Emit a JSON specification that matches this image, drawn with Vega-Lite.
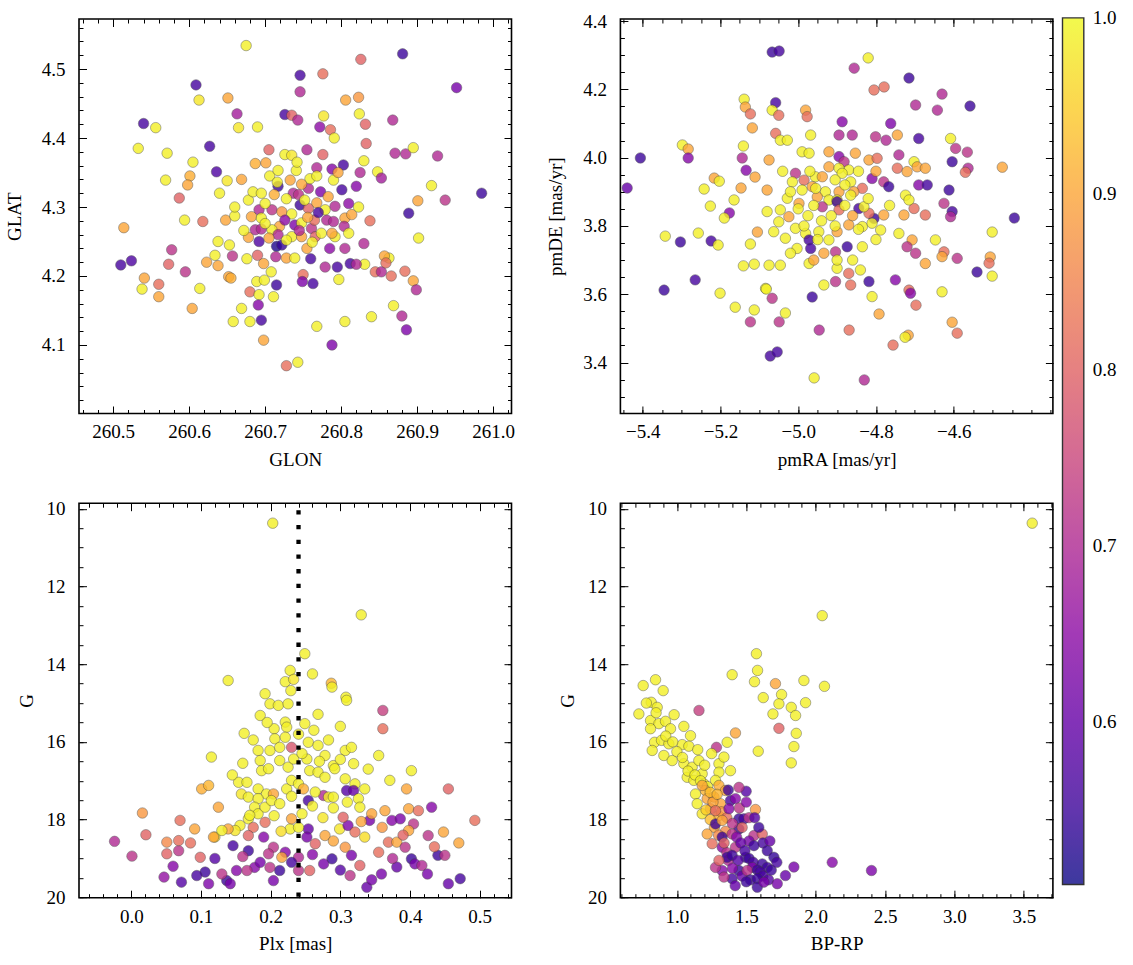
{
"$schema":"https://vega.github.io/schema/vega-lite/v6.json",
"background":"white",
"padding":{"left":4,"top":11,"right":10,"bottom":10},
"bounds":"flush",
"columns":2,
"spacing":{"row":89.2,"column":108.4},
"datasets":{
"sky":[
{"GLON":260.675,"GLAT":4.534,"P":0.99},{"GLON":260.826,"GLAT":4.514,"P":0.80},{"GLON":260.881,"GLAT":4.522,"P":0.55},{"GLON":260.746,"GLAT":4.491,"P":0.56},{"GLON":260.776,"GLAT":4.493,"P":0.82},{"GLON":260.952,"GLAT":4.473,"P":0.62},{"GLON":260.609,"GLAT":4.477,"P":0.56},{"GLON":260.613,"GLAT":4.455,"P":0.98},{"GLON":260.651,"GLAT":4.458,"P":0.90},{"GLON":260.823,"GLAT":4.459,"P":0.88},{"GLON":260.806,"GLAT":4.455,"P":0.90},{"GLON":260.746,"GLAT":4.467,"P":0.70},{"GLON":260.540,"GLAT":4.421,"P":0.56},{"GLON":260.556,"GLAT":4.415,"P":0.99},{"GLON":260.663,"GLAT":4.435,"P":0.68},{"GLON":260.665,"GLAT":4.415,"P":0.98},{"GLON":260.690,"GLAT":4.416,"P":0.99},{"GLON":260.726,"GLAT":4.434,"P":0.56},{"GLON":260.735,"GLAT":4.433,"P":0.80},{"GLON":260.743,"GLAT":4.426,"P":0.70},{"GLON":260.772,"GLAT":4.416,"P":0.65},{"GLON":260.777,"GLAT":4.432,"P":0.98},{"GLON":260.786,"GLAT":4.412,"P":0.82},{"GLON":260.824,"GLAT":4.435,"P":0.99},{"GLON":260.832,"GLAT":4.420,"P":0.80},{"GLON":260.868,"GLAT":4.426,"P":0.70},{"GLON":260.533,"GLAT":4.385,"P":0.99},{"GLON":260.571,"GLAT":4.378,"P":0.99},{"GLON":260.627,"GLAT":4.388,"P":0.56},{"GLON":260.605,"GLAT":4.365,"P":0.99},{"GLON":260.636,"GLAT":4.351,"P":0.57},{"GLON":260.601,"GLAT":4.345,"P":0.91},{"GLON":260.650,"GLAT":4.338,"P":0.98},{"GLON":260.669,"GLAT":4.340,"P":0.90},{"GLON":260.687,"GLAT":4.363,"P":0.91},{"GLON":260.701,"GLAT":4.364,"P":0.90},{"GLON":260.705,"GLAT":4.383,"P":0.80},{"GLON":260.755,"GLAT":4.383,"P":0.70},{"GLON":260.776,"GLAT":4.376,"P":0.80},{"GLON":260.726,"GLAT":4.376,"P":0.99},{"GLON":260.735,"GLAT":4.375,"P":0.98},{"GLON":260.791,"GLAT":4.400,"P":0.99},{"GLON":260.833,"GLAT":4.392,"P":0.80},{"GLON":260.803,"GLAT":4.361,"P":0.56},{"GLON":260.788,"GLAT":4.355,"P":0.64},{"GLON":260.768,"GLAT":4.357,"P":0.70},{"GLON":260.830,"GLAT":4.367,"P":0.99},{"GLON":260.825,"GLAT":4.350,"P":0.70},{"GLON":260.848,"GLAT":4.351,"P":0.99},{"GLON":260.853,"GLAT":4.342,"P":0.68},{"GLON":260.871,"GLAT":4.378,"P":0.70},{"GLON":260.706,"GLAT":4.345,"P":0.99},{"GLON":260.717,"GLAT":4.330,"P":0.55},{"GLON":260.717,"GLAT":4.353,"P":0.99},{"GLON":260.733,"GLAT":4.339,"P":0.90},{"GLON":260.737,"GLAT":4.320,"P":0.70},{"GLON":260.757,"GLAT":4.327,"P":0.70},{"GLON":260.773,"GLAT":4.322,"P":0.63},{"GLON":260.801,"GLAT":4.325,"P":0.56},{"GLON":260.810,"GLAT":4.305,"P":0.65},{"GLON":260.741,"GLAT":4.353,"P":0.99},{"GLON":260.759,"GLAT":4.341,"P":0.99},{"GLON":260.783,"GLAT":4.315,"P":0.90},{"GLON":260.790,"GLAT":4.339,"P":0.99},{"GLON":260.692,"GLAT":4.296,"P":0.70},{"GLON":260.709,"GLAT":4.296,"P":0.72},{"GLON":260.722,"GLAT":4.293,"P":0.88},{"GLON":260.746,"GLAT":4.303,"P":0.55},{"GLON":260.757,"GLAT":4.298,"P":0.80},{"GLON":260.678,"GLAT":4.310,"P":0.99},{"GLON":260.684,"GLAT":4.322,"P":0.99},{"GLON":260.695,"GLAT":4.320,"P":0.99},{"GLON":260.682,"GLAT":4.286,"P":0.90},{"GLON":260.695,"GLAT":4.284,"P":0.99},{"GLON":260.719,"GLAT":4.272,"P":0.90},{"GLON":260.739,"GLAT":4.274,"P":0.63},{"GLON":260.748,"GLAT":4.277,"P":0.99},{"GLON":260.761,"GLAT":4.269,"P":0.72},{"GLON":260.765,"GLAT":4.281,"P":0.82},{"GLON":260.781,"GLAT":4.281,"P":0.70},{"GLON":260.790,"GLAT":4.279,"P":0.70},{"GLON":260.805,"GLAT":4.284,"P":0.90},{"GLON":260.804,"GLAT":4.272,"P":0.70},{"GLON":260.814,"GLAT":4.289,"P":0.90},{"GLON":260.687,"GLAT":4.267,"P":0.70},{"GLON":260.695,"GLAT":4.268,"P":0.70},{"GLON":260.709,"GLAT":4.267,"P":0.99},{"GLON":260.717,"GLAT":4.260,"P":0.70},{"GLON":260.692,"GLAT":4.250,"P":0.57},{"GLON":260.715,"GLAT":4.243,"P":0.52},{"GLON":260.722,"GLAT":4.245,"P":0.54},{"GLON":260.735,"GLAT":4.257,"P":0.99},{"GLON":260.748,"GLAT":4.257,"P":0.90},{"GLON":260.766,"GLAT":4.257,"P":0.80},{"GLON":260.774,"GLAT":4.262,"P":0.99},{"GLON":260.792,"GLAT":4.257,"P":0.99},{"GLON":260.678,"GLAT":4.256,"P":0.90},{"GLON":260.638,"GLAT":4.250,"P":0.99},{"GLON":260.653,"GLAT":4.245,"P":0.99},{"GLON":260.657,"GLAT":4.229,"P":0.72},{"GLON":260.634,"GLAT":4.230,"P":0.99},{"GLON":260.638,"GLAT":4.215,"P":0.90},{"GLON":260.690,"GLAT":4.230,"P":0.80},{"GLON":260.698,"GLAT":4.218,"P":0.90},{"GLON":260.714,"GLAT":4.228,"P":0.70},{"GLON":260.728,"GLAT":4.226,"P":0.90},{"GLON":260.739,"GLAT":4.226,"P":0.99},{"GLON":260.755,"GLAT":4.240,"P":0.90},{"GLON":260.785,"GLAT":4.240,"P":0.65},{"GLON":260.805,"GLAT":4.240,"P":0.70},{"GLON":260.779,"GLAT":4.213,"P":0.70},{"GLON":260.795,"GLAT":4.213,"P":0.56},{"GLON":260.812,"GLAT":4.218,"P":0.56},{"GLON":260.831,"GLAT":4.217,"P":0.99},{"GLON":260.845,"GLAT":4.206,"P":0.82},{"GLON":260.853,"GLAT":4.206,"P":0.70},{"GLON":260.863,"GLAT":4.226,"P":0.99},{"GLON":260.857,"GLAT":4.229,"P":0.90},{"GLON":260.866,"GLAT":4.200,"P":0.82},{"GLON":260.652,"GLAT":4.199,"P":0.90},{"GLON":260.655,"GLAT":4.197,"P":0.91},{"GLON":260.680,"GLAT":4.177,"P":0.82},{"GLON":260.689,"GLAT":4.192,"P":0.99},{"GLON":260.699,"GLAT":4.194,"P":0.99},{"GLON":260.715,"GLAT":4.187,"P":0.55},{"GLON":260.692,"GLAT":4.173,"P":0.99},{"GLON":260.711,"GLAT":4.170,"P":0.99},{"GLON":260.750,"GLAT":4.202,"P":0.82},{"GLON":260.749,"GLAT":4.192,"P":0.63},{"GLON":260.763,"GLAT":4.189,"P":0.56},{"GLON":260.691,"GLAT":4.158,"P":0.64},{"GLON":260.669,"GLAT":4.153,"P":0.99},{"GLON":260.695,"GLAT":4.136,"P":0.56},{"GLON":260.680,"GLAT":4.134,"P":0.99},{"GLON":260.768,"GLAT":4.127,"P":0.99},{"GLON":260.805,"GLAT":4.134,"P":0.99},{"GLON":260.840,"GLAT":4.141,"P":0.99},{"GLON":260.869,"GLAT":4.157,"P":0.99},{"GLON":260.614,"GLAT":4.182,"P":0.99},{"GLON":260.604,"GLAT":4.153,"P":0.90},{"GLON":260.595,"GLAT":4.206,"P":0.72},{"GLON":260.594,"GLAT":4.281,"P":0.99},{"GLON":260.618,"GLAT":4.279,"P":0.82},{"GLON":260.648,"GLAT":4.281,"P":0.90},{"GLON":260.660,"GLAT":4.287,"P":0.99},{"GLON":260.510,"GLAT":4.216,"P":0.56},{"GLON":260.524,"GLAT":4.222,"P":0.57},{"GLON":260.514,"GLAT":4.270,"P":0.90},{"GLON":260.538,"GLAT":4.181,"P":0.99},{"GLON":260.541,"GLAT":4.197,"P":0.90},{"GLON":260.560,"GLAT":4.188,"P":0.82},{"GLON":260.560,"GLAT":4.170,"P":0.90},{"GLON":260.573,"GLAT":4.217,"P":0.80},{"GLON":260.577,"GLAT":4.238,"P":0.72},{"GLON":260.587,"GLAT":4.313,"P":0.80},{"GLON":260.598,"GLAT":4.332,"P":0.90},{"GLON":260.569,"GLAT":4.339,"P":0.99},{"GLON":260.623,"GLAT":4.220,"P":0.90},{"GLON":260.885,"GLAT":4.377,"P":0.70},{"GLON":260.895,"GLAT":4.386,"P":0.99},{"GLON":260.919,"GLAT":4.331,"P":0.99},{"GLON":260.927,"GLAT":4.374,"P":0.70},{"GLON":260.901,"GLAT":4.309,"P":0.90},{"GLON":260.889,"GLAT":4.291,"P":0.55},{"GLON":260.902,"GLAT":4.255,"P":0.99},{"GLON":260.884,"GLAT":4.207,"P":0.82},{"GLON":260.895,"GLAT":4.193,"P":0.90},{"GLON":260.899,"GLAT":4.180,"P":0.70},{"GLON":260.880,"GLAT":4.142,"P":0.70},{"GLON":260.886,"GLAT":4.122,"P":0.63},{"GLON":260.937,"GLAT":4.310,"P":0.72},{"GLON":260.859,"GLAT":4.219,"P":0.82},{"GLON":260.820,"GLAT":4.217,"P":0.70},{"GLON":260.728,"GLAT":4.070,"P":0.82},{"GLON":260.743,"GLAT":4.075,"P":0.99},{"GLON":260.788,"GLAT":4.100,"P":0.63},{"GLON":260.698,"GLAT":4.107,"P":0.90},{"GLON":260.658,"GLAT":4.134,"P":0.99},{"GLON":260.985,"GLAT":4.320,"P":0.55},
{"GLON":260.700,"GLAT":4.305,"P":0.99},{"GLON":260.712,"GLAT":4.318,"P":0.91},{"GLON":260.728,"GLAT":4.312,"P":0.99},{"GLON":260.744,"GLAT":4.318,"P":0.72},{"GLON":260.752,"GLAT":4.310,"P":0.99},{"GLON":260.768,"GLAT":4.306,"P":0.90},{"GLON":260.779,"GLAT":4.296,"P":0.99},{"GLON":260.792,"GLAT":4.301,"P":0.70},{"GLON":260.735,"GLAT":4.290,"P":0.99},{"GLON":260.726,"GLAT":4.281,"P":0.65},{"GLON":260.700,"GLAT":4.276,"P":0.99},{"GLON":260.756,"GLAT":4.285,"P":0.90},{"GLON":260.770,"GLAT":4.292,"P":0.56},{"GLON":260.788,"GLAT":4.262,"P":0.90},{"GLON":260.762,"GLAT":4.249,"P":0.99},{"GLON":260.745,"GLAT":4.266,"P":0.70},{"GLON":260.728,"GLAT":4.252,"P":0.99},{"GLON":260.705,"GLAT":4.255,"P":0.90},{"GLON":260.716,"GLAT":4.336,"P":0.99},{"GLON":260.748,"GLAT":4.333,"P":0.90},{"GLON":260.768,"GLAT":4.345,"P":0.99},{"GLON":260.796,"GLAT":4.350,"P":0.90},{"GLON":260.742,"GLAT":4.365,"P":0.99},{"GLON":260.660,"GLAT":4.300,"P":0.99},{"GLON":260.672,"GLAT":4.266,"P":0.99},{"GLON":260.810,"GLAT":4.262,"P":0.99},{"GLON":260.823,"GLAT":4.300,"P":0.99},{"GLON":260.830,"GLAT":4.247,"P":0.70},{"GLON":260.676,"GLAT":4.225,"P":0.99},{"GLON":260.708,"GLAT":4.206,"P":0.99},{"GLON":260.640,"GLAT":4.320,"P":0.99},{"GLON":260.760,"GLAT":4.225,"P":0.56},{"GLON":260.797,"GLAT":4.195,"P":0.99},{"GLON":260.838,"GLAT":4.280,"P":0.82},{"GLON":260.820,"GLAT":4.330,"P":0.64}
],
"pm":[
{"pmRA":-5.058,"pmDE":4.161,"P":0.56},{"pmRA":-5.067,"pmDE":4.139,"P":0.99},{"pmRA":-5.050,"pmDE":4.124,"P":0.82},{"pmRA":-4.981,"pmDE":4.139,"P":0.90},{"pmRA":-4.977,"pmDE":4.120,"P":0.82},{"pmRA":-4.887,"pmDE":4.105,"P":0.64},{"pmRA":-4.895,"pmDE":4.066,"P":0.70},{"pmRA":-4.861,"pmDE":4.066,"P":0.70},{"pmRA":-4.801,"pmDE":4.061,"P":0.72},{"pmRA":-4.774,"pmDE":4.051,"P":0.70},{"pmRA":-4.762,"pmDE":4.100,"P":0.63},{"pmRA":-4.745,"pmDE":4.066,"P":0.90},{"pmRA":-4.698,"pmDE":4.154,"P":0.70},{"pmRA":-4.642,"pmDE":4.139,"P":0.70},{"pmRA":-4.690,"pmDE":4.056,"P":0.56},{"pmRA":-4.608,"pmDE":4.056,"P":0.99},{"pmRA":-4.595,"pmDE":4.027,"P":0.72},{"pmRA":-4.604,"pmDE":3.988,"P":0.55},{"pmRA":-5.058,"pmDE":4.071,"P":0.82},{"pmRA":-5.046,"pmDE":4.051,"P":0.99},{"pmRA":-5.028,"pmDE":4.051,"P":0.99},{"pmRA":-4.968,"pmDE":4.066,"P":0.99},{"pmRA":-4.990,"pmDE":4.017,"P":0.99},{"pmRA":-4.972,"pmDE":4.013,"P":0.99},{"pmRA":-4.921,"pmDE":4.017,"P":0.90},{"pmRA":-4.895,"pmDE":4.003,"P":0.64},{"pmRA":-4.882,"pmDE":3.988,"P":0.72},{"pmRA":-4.853,"pmDE":4.013,"P":0.90},{"pmRA":-4.870,"pmDE":3.964,"P":0.99},{"pmRA":-4.818,"pmDE":3.993,"P":0.90},{"pmRA":-4.797,"pmDE":3.998,"P":0.82},{"pmRA":-4.741,"pmDE":4.008,"P":0.70},{"pmRA":-4.745,"pmDE":3.969,"P":0.82},{"pmRA":-4.702,"pmDE":3.988,"P":0.99},{"pmRA":-4.720,"pmDE":3.959,"P":0.90},{"pmRA":-4.694,"pmDE":3.973,"P":0.90},{"pmRA":-4.673,"pmDE":3.969,"P":0.90},{"pmRA":-4.810,"pmDE":3.939,"P":0.64},{"pmRA":-4.780,"pmDE":3.929,"P":0.72},{"pmRA":-4.767,"pmDE":3.915,"P":0.55},{"pmRA":-4.690,"pmDE":3.920,"P":0.64},{"pmRA":-4.668,"pmDE":3.920,"P":0.56},{"pmRA":-5.075,"pmDE":3.993,"P":0.90},{"pmRA":-5.007,"pmDE":3.954,"P":0.72},{"pmRA":-4.985,"pmDE":3.934,"P":0.82},{"pmRA":-5.015,"pmDE":3.929,"P":0.99},{"pmRA":-4.956,"pmDE":3.944,"P":0.99},{"pmRA":-4.921,"pmDE":3.973,"P":0.90},{"pmRA":-4.938,"pmDE":3.944,"P":0.90},{"pmRA":-4.895,"pmDE":3.969,"P":0.99},{"pmRA":-4.887,"pmDE":3.954,"P":0.99},{"pmRA":-4.865,"pmDE":3.929,"P":0.99},{"pmRA":-4.835,"pmDE":3.910,"P":0.82},{"pmRA":-4.857,"pmDE":3.900,"P":0.90},{"pmRA":-4.895,"pmDE":3.900,"P":0.90},{"pmRA":-4.930,"pmDE":3.900,"P":0.99},{"pmRA":-4.964,"pmDE":3.915,"P":0.90},{"pmRA":-4.990,"pmDE":3.905,"P":0.99},{"pmRA":-5.080,"pmDE":3.905,"P":0.90},{"pmRA":-5.028,"pmDE":3.881,"P":0.99},{"pmRA":-4.998,"pmDE":3.866,"P":0.90},{"pmRA":-4.951,"pmDE":3.885,"P":0.90},{"pmRA":-4.921,"pmDE":3.876,"P":0.99},{"pmRA":-4.900,"pmDE":3.876,"P":0.99},{"pmRA":-4.900,"pmDE":3.871,"P":0.55},{"pmRA":-4.938,"pmDE":3.856,"P":0.72},{"pmRA":-4.895,"pmDE":3.847,"P":0.82},{"pmRA":-4.865,"pmDE":3.890,"P":0.99},{"pmRA":-4.844,"pmDE":3.851,"P":0.56},{"pmRA":-4.805,"pmDE":3.822,"P":0.55},{"pmRA":-4.818,"pmDE":3.837,"P":0.82},{"pmRA":-4.831,"pmDE":3.856,"P":0.99},{"pmRA":-4.780,"pmDE":3.832,"P":0.90},{"pmRA":-4.728,"pmDE":3.832,"P":0.90},{"pmRA":-4.702,"pmDE":3.851,"P":0.82},{"pmRA":-4.673,"pmDE":3.832,"P":0.82},{"pmRA":-4.724,"pmDE":3.890,"P":0.99},{"pmRA":-4.715,"pmDE":3.876,"P":0.99},{"pmRA":-4.625,"pmDE":3.866,"P":0.72},{"pmRA":-4.604,"pmDE":3.842,"P":0.56},{"pmRA":-4.608,"pmDE":3.827,"P":0.70},{"pmRA":-5.046,"pmDE":3.847,"P":0.99},{"pmRA":-5.024,"pmDE":3.827,"P":0.90},{"pmRA":-5.050,"pmDE":3.812,"P":0.99},{"pmRA":-5.080,"pmDE":3.842,"P":0.99},{"pmRA":-5.007,"pmDE":3.793,"P":0.99},{"pmRA":-4.981,"pmDE":3.778,"P":0.99},{"pmRA":-4.947,"pmDE":3.783,"P":0.99},{"pmRA":-4.921,"pmDE":3.759,"P":0.99},{"pmRA":-4.900,"pmDE":3.783,"P":0.90},{"pmRA":-4.870,"pmDE":3.803,"P":0.90},{"pmRA":-4.835,"pmDE":3.798,"P":0.99},{"pmRA":-4.810,"pmDE":3.808,"P":0.99},{"pmRA":-4.788,"pmDE":3.788,"P":0.99},{"pmRA":-4.835,"pmDE":3.739,"P":0.99},{"pmRA":-4.874,"pmDE":3.739,"P":0.55},{"pmRA":-4.904,"pmDE":3.724,"P":0.72},{"pmRA":-4.934,"pmDE":3.720,"P":0.90},{"pmRA":-4.972,"pmDE":3.759,"P":0.56},{"pmRA":-4.968,"pmDE":3.734,"P":0.56},{"pmRA":-5.003,"pmDE":3.734,"P":0.99},{"pmRA":-5.033,"pmDE":3.764,"P":0.99},{"pmRA":-5.063,"pmDE":3.783,"P":0.99},{"pmRA":-4.741,"pmDE":3.778,"P":0.99},{"pmRA":-4.707,"pmDE":3.759,"P":0.90},{"pmRA":-4.720,"pmDE":3.739,"P":0.72},{"pmRA":-4.698,"pmDE":3.720,"P":0.72},{"pmRA":-4.673,"pmDE":3.690,"P":0.90},{"pmRA":-4.647,"pmDE":3.759,"P":0.99},{"pmRA":-4.625,"pmDE":3.724,"P":0.82},{"pmRA":-4.630,"pmDE":3.710,"P":0.90},{"pmRA":-4.591,"pmDE":3.705,"P":0.72},{"pmRA":-5.075,"pmDE":3.685,"P":0.99},{"pmRA":-5.046,"pmDE":3.685,"P":0.99},{"pmRA":-4.972,"pmDE":3.690,"P":0.99},{"pmRA":-4.934,"pmDE":3.627,"P":0.99},{"pmRA":-4.900,"pmDE":3.676,"P":0.99},{"pmRA":-4.870,"pmDE":3.661,"P":0.82},{"pmRA":-4.840,"pmDE":3.671,"P":0.99},{"pmRA":-4.865,"pmDE":3.627,"P":0.82},{"pmRA":-4.904,"pmDE":3.637,"P":0.72},{"pmRA":-4.818,"pmDE":3.637,"P":0.55},{"pmRA":-4.750,"pmDE":3.642,"P":0.64},{"pmRA":-4.715,"pmDE":3.612,"P":0.82},{"pmRA":-4.711,"pmDE":3.603,"P":0.64},{"pmRA":-4.630,"pmDE":3.607,"P":0.99},{"pmRA":-5.084,"pmDE":3.617,"P":0.99},{"pmRA":-5.067,"pmDE":3.588,"P":0.72},{"pmRA":-4.810,"pmDE":3.593,"P":0.99},
{"pmRA":-5.067,"pmDE":4.309,"P":0.55},{"pmRA":-5.049,"pmDE":4.312,"P":0.56},{"pmRA":-4.820,"pmDE":4.292,"P":0.99},{"pmRA":-4.715,"pmDE":4.233,"P":0.55},{"pmRA":-4.856,"pmDE":4.262,"P":0.70},{"pmRA":-4.805,"pmDE":4.198,"P":0.82},{"pmRA":-4.779,"pmDE":4.207,"P":0.82},{"pmRA":-4.630,"pmDE":4.186,"P":0.70},{"pmRA":-4.558,"pmDE":4.151,"P":0.55},{"pmRA":-4.475,"pmDE":3.972,"P":0.90},{"pmRA":-4.563,"pmDE":3.969,"P":0.70},{"pmRA":-4.565,"pmDE":4.016,"P":0.72},{"pmRA":-4.570,"pmDE":3.957,"P":0.82},{"pmRA":-4.612,"pmDE":3.905,"P":0.55},{"pmRA":-4.444,"pmDE":3.823,"P":0.55},{"pmRA":-4.501,"pmDE":3.782,"P":0.99},{"pmRA":-4.506,"pmDE":3.709,"P":0.90},{"pmRA":-4.509,"pmDE":3.691,"P":0.82},{"pmRA":-4.501,"pmDE":3.653,"P":0.99},{"pmRA":-4.540,"pmDE":3.665,"P":0.55},{"pmRA":-4.591,"pmDE":3.486,"P":0.82},{"pmRA":-4.604,"pmDE":3.518,"P":0.90},{"pmRA":-4.697,"pmDE":3.568,"P":0.82},{"pmRA":-4.717,"pmDE":3.480,"P":0.90},{"pmRA":-4.725,"pmDE":3.474,"P":0.99},{"pmRA":-4.756,"pmDE":3.451,"P":0.82},{"pmRA":-4.792,"pmDE":3.542,"P":0.90},{"pmRA":-4.869,"pmDE":3.495,"P":0.82},{"pmRA":-4.959,"pmDE":3.355,"P":0.99},{"pmRA":-4.830,"pmDE":3.349,"P":0.70},{"pmRA":-4.964,"pmDE":3.592,"P":0.55},{"pmRA":-4.946,"pmDE":3.495,"P":0.70},{"pmRA":-5.049,"pmDE":3.519,"P":0.72},{"pmRA":-5.033,"pmDE":3.545,"P":0.99},{"pmRA":-5.072,"pmDE":3.419,"P":0.56},{"pmRA":-5.054,"pmDE":3.431,"P":0.56},{"pmRA":-5.082,"pmDE":3.615,"P":0.99},{"pmRA":-5.123,"pmDE":3.519,"P":0.72},{"pmRA":-5.113,"pmDE":3.554,"P":0.99},{"pmRA":-5.162,"pmDE":3.562,"P":0.99},{"pmRA":-5.201,"pmDE":3.603,"P":0.99},{"pmRA":-5.141,"pmDE":3.683,"P":0.99},{"pmRA":-5.113,"pmDE":3.688,"P":0.99},{"pmRA":-5.345,"pmDE":3.612,"P":0.55},{"pmRA":-5.265,"pmDE":3.642,"P":0.56},{"pmRA":-5.224,"pmDE":3.756,"P":0.56},{"pmRA":-5.303,"pmDE":3.753,"P":0.55},{"pmRA":-5.206,"pmDE":3.744,"P":0.99},{"pmRA":-5.257,"pmDE":3.779,"P":0.99},{"pmRA":-5.342,"pmDE":3.770,"P":0.99},{"pmRA":-5.242,"pmDE":3.908,"P":0.99},{"pmRA":-5.226,"pmDE":3.858,"P":0.99},{"pmRA":-5.177,"pmDE":3.838,"P":0.64},{"pmRA":-5.190,"pmDE":3.823,"P":0.99},{"pmRA":-5.147,"pmDE":3.911,"P":0.90},{"pmRA":-5.111,"pmDE":3.943,"P":0.90},{"pmRA":-5.134,"pmDE":3.963,"P":0.64},{"pmRA":-5.144,"pmDE":3.999,"P":0.70},{"pmRA":-5.141,"pmDE":4.034,"P":0.99},{"pmRA":-5.139,"pmDE":4.171,"P":0.99},{"pmRA":-5.136,"pmDE":4.148,"P":0.90},{"pmRA":-5.123,"pmDE":4.128,"P":0.82},{"pmRA":-5.118,"pmDE":4.087,"P":0.90},{"pmRA":-5.298,"pmDE":4.037,"P":0.99},{"pmRA":-5.283,"pmDE":4.025,"P":0.90},{"pmRA":-5.283,"pmDE":3.999,"P":0.64},{"pmRA":-5.406,"pmDE":3.999,"P":0.55},{"pmRA":-5.440,"pmDE":3.911,"P":0.60},{"pmRA":-5.105,"pmDE":3.782,"P":0.90},{"pmRA":-5.123,"pmDE":3.747,"P":0.99},{"pmRA":-5.216,"pmDE":3.940,"P":0.90},{"pmRA":-5.203,"pmDE":3.931,"P":0.99},{"pmRA":-5.165,"pmDE":3.876,"P":0.99},
{"pmRA":-4.960,"pmDE":3.860,"P":0.99},{"pmRA":-4.975,"pmDE":3.830,"P":0.99},{"pmRA":-4.940,"pmDE":3.815,"P":0.99},{"pmRA":-4.915,"pmDE":3.830,"P":0.99},{"pmRA":-4.880,"pmDE":3.860,"P":0.99},{"pmRA":-4.860,"pmDE":3.830,"P":0.90},{"pmRA":-4.845,"pmDE":3.790,"P":0.99},{"pmRA":-4.905,"pmDE":3.800,"P":0.99},{"pmRA":-4.950,"pmDE":3.760,"P":0.99},{"pmRA":-4.985,"pmDE":3.800,"P":0.99},{"pmRA":-5.000,"pmDE":3.850,"P":0.99},{"pmRA":-5.020,"pmDE":3.900,"P":0.99},{"pmRA":-4.955,"pmDE":3.910,"P":0.99},{"pmRA":-4.880,"pmDE":3.920,"P":0.99},{"pmRA":-4.845,"pmDE":3.960,"P":0.99},{"pmRA":-4.905,"pmDE":3.935,"P":0.99},{"pmRA":-4.970,"pmDE":3.960,"P":0.99},{"pmRA":-5.040,"pmDE":3.960,"P":0.99},{"pmRA":-4.820,"pmDE":3.880,"P":0.99},{"pmRA":-4.800,"pmDE":3.760,"P":0.99},{"pmRA":-4.765,"pmDE":3.860,"P":0.99},{"pmRA":-4.900,"pmDE":3.700,"P":0.99},{"pmRA":-4.960,"pmDE":3.700,"P":0.90},{"pmRA":-4.860,"pmDE":3.700,"P":0.99},{"pmRA":-5.020,"pmDE":3.720,"P":0.99},{"pmRA":-4.800,"pmDE":3.960,"P":0.90}
],
"plx":[
{"Plx":0.203,"G":10.37,"P":0.99},{"Plx":0.330,"G":12.73,"P":0.99},{"Plx":0.249,"G":13.73,"P":0.99},{"Plx":0.228,"G":14.16,"P":0.99},{"Plx":0.260,"G":14.25,"P":0.99},{"Plx":0.221,"G":14.45,"P":0.99},{"Plx":0.233,"G":14.39,"P":0.98},{"Plx":0.229,"G":14.68,"P":0.99},{"Plx":0.139,"G":14.42,"P":0.99},{"Plx":0.287,"G":14.49,"P":0.92},{"Plx":0.288,"G":14.59,"P":0.99},{"Plx":0.308,"G":14.85,"P":0.99},{"Plx":0.192,"G":14.76,"P":0.99},{"Plx":0.185,"G":15.32,"P":0.99},{"Plx":0.199,"G":15.02,"P":0.99},{"Plx":0.211,"G":15.06,"P":0.99},{"Plx":0.225,"G":15.02,"P":0.99},{"Plx":0.268,"G":15.29,"P":0.99},{"Plx":0.309,"G":14.93,"P":0.99},{"Plx":0.361,"G":15.19,"P":0.74},{"Plx":0.361,"G":15.66,"P":0.82},{"Plx":0.162,"G":15.78,"P":0.99},{"Plx":0.205,"G":15.66,"P":0.99},{"Plx":0.221,"G":15.49,"P":0.99},{"Plx":0.223,"G":15.62,"P":0.99},{"Plx":0.249,"G":15.53,"P":0.99},{"Plx":0.230,"G":16.14,"P":0.78},{"Plx":0.206,"G":15.92,"P":0.99},{"Plx":0.199,"G":16.22,"P":0.99},{"Plx":0.182,"G":16.22,"P":0.99},{"Plx":0.213,"G":16.14,"P":0.99},{"Plx":0.221,"G":15.88,"P":0.99},{"Plx":0.254,"G":16.01,"P":0.99},{"Plx":0.268,"G":16.09,"P":0.99},{"Plx":0.252,"G":16.44,"P":0.99},{"Plx":0.278,"G":16.35,"P":0.99},{"Plx":0.290,"G":16.61,"P":0.99},{"Plx":0.307,"G":16.22,"P":0.99},{"Plx":0.316,"G":16.14,"P":0.99},{"Plx":0.319,"G":16.56,"P":0.99},{"Plx":0.115,"G":16.39,"P":0.99},{"Plx":0.185,"G":16.48,"P":0.99},{"Plx":0.187,"G":16.74,"P":0.99},{"Plx":0.197,"G":16.69,"P":0.99},{"Plx":0.213,"G":16.48,"P":0.99},{"Plx":0.225,"G":16.65,"P":0.99},{"Plx":0.233,"G":16.44,"P":0.99},{"Plx":0.256,"G":16.74,"P":0.99},{"Plx":0.268,"G":16.78,"P":0.99},{"Plx":0.278,"G":16.91,"P":0.99},{"Plx":0.307,"G":16.95,"P":0.99},{"Plx":0.321,"G":17.08,"P":0.99},{"Plx":0.335,"G":17.21,"P":0.99},{"Plx":0.292,"G":16.69,"P":0.99},{"Plx":0.154,"G":17.04,"P":0.99},{"Plx":0.166,"G":17.04,"P":0.99},{"Plx":0.158,"G":17.34,"P":0.98},{"Plx":0.182,"G":17.21,"P":0.99},{"Plx":0.194,"G":17.34,"P":0.99},{"Plx":0.223,"G":17.21,"P":0.99},{"Plx":0.204,"G":17.34,"P":0.90},{"Plx":0.230,"G":16.99,"P":0.99},{"Plx":0.240,"G":17.08,"P":0.99},{"Plx":0.247,"G":17.21,"P":0.91},{"Plx":0.254,"G":17.51,"P":0.56},{"Plx":0.276,"G":17.38,"P":0.70},{"Plx":0.264,"G":17.29,"P":0.99},{"Plx":0.283,"G":17.42,"P":0.99},{"Plx":0.290,"G":17.42,"P":0.99},{"Plx":0.309,"G":17.25,"P":0.58},{"Plx":0.319,"G":17.25,"P":0.60},{"Plx":0.326,"G":17.46,"P":0.99},{"Plx":0.328,"G":17.68,"P":0.99},{"Plx":0.371,"G":16.99,"P":0.99},{"Plx":0.395,"G":17.21,"P":0.90},{"Plx":0.402,"G":16.74,"P":0.99},{"Plx":0.455,"G":17.21,"P":0.80},{"Plx":0.125,"G":17.68,"P":0.90},{"Plx":0.101,"G":17.21,"P":0.91},{"Plx":0.111,"G":17.12,"P":0.92},{"Plx":0.168,"G":17.42,"P":0.99},{"Plx":0.182,"G":17.46,"P":0.99},{"Plx":0.177,"G":17.68,"P":0.99},{"Plx":0.182,"G":17.85,"P":0.99},{"Plx":0.192,"G":17.68,"P":0.99},{"Plx":0.201,"G":17.51,"P":0.99},{"Plx":0.213,"G":17.59,"P":0.99},{"Plx":0.168,"G":17.98,"P":0.99},{"Plx":0.156,"G":18.15,"P":0.99},{"Plx":0.149,"G":18.28,"P":0.98},{"Plx":0.120,"G":18.45,"P":0.97},{"Plx":0.139,"G":18.24,"P":0.90},{"Plx":0.192,"G":18.07,"P":0.82},{"Plx":0.175,"G":18.20,"P":0.82},{"Plx":0.190,"G":18.45,"P":0.64},{"Plx":0.168,"G":18.41,"P":0.80},{"Plx":0.146,"G":18.67,"P":0.56},{"Plx":0.168,"G":18.80,"P":0.55},{"Plx":0.204,"G":18.71,"P":0.72},{"Plx":0.221,"G":18.84,"P":0.64},{"Plx":0.216,"G":18.97,"P":0.90},{"Plx":0.197,"G":18.88,"P":0.72},{"Plx":0.228,"G":18.24,"P":0.99},{"Plx":0.230,"G":17.98,"P":0.90},{"Plx":0.254,"G":18.24,"P":0.60},{"Plx":0.252,"G":18.45,"P":0.62},{"Plx":0.264,"G":18.62,"P":0.80},{"Plx":0.240,"G":18.97,"P":0.70},{"Plx":0.278,"G":18.41,"P":0.90},{"Plx":0.299,"G":18.24,"P":0.98},{"Plx":0.307,"G":18.71,"P":0.88},{"Plx":0.311,"G":18.15,"P":0.63},{"Plx":0.304,"G":17.94,"P":0.80},{"Plx":0.321,"G":18.32,"P":0.82},{"Plx":0.335,"G":18.45,"P":0.97},{"Plx":0.342,"G":18.02,"P":0.62},{"Plx":0.345,"G":17.85,"P":0.90},{"Plx":0.364,"G":17.77,"P":0.90},{"Plx":0.374,"G":18.02,"P":0.64},{"Plx":0.386,"G":17.98,"P":0.63},{"Plx":0.398,"G":17.72,"P":0.90},{"Plx":0.412,"G":17.77,"P":0.82},{"Plx":0.431,"G":17.68,"P":0.64},{"Plx":0.405,"G":18.11,"P":0.72},{"Plx":0.398,"G":18.28,"P":0.90},{"Plx":0.369,"G":18.58,"P":0.82},{"Plx":0.381,"G":18.58,"P":0.90},{"Plx":0.393,"G":18.71,"P":0.72},{"Plx":0.355,"G":18.84,"P":0.82},{"Plx":0.316,"G":18.92,"P":0.62},{"Plx":0.328,"G":19.18,"P":0.80},{"Plx":0.314,"G":19.44,"P":0.72},{"Plx":0.338,"G":19.74,"P":0.60},{"Plx":0.359,"G":19.40,"P":0.62},{"Plx":0.381,"G":19.22,"P":0.60},{"Plx":0.402,"G":19.01,"P":0.55},{"Plx":0.407,"G":19.14,"P":0.62},{"Plx":0.417,"G":19.18,"P":0.70},{"Plx":0.426,"G":18.41,"P":0.72},{"Plx":0.448,"G":18.32,"P":0.90},{"Plx":0.440,"G":18.92,"P":0.55},{"Plx":0.450,"G":18.92,"P":0.72},{"Plx":0.493,"G":18.02,"P":0.82},{"Plx":0.455,"G":19.65,"P":0.60},{"Plx":0.472,"G":19.52,"P":0.56},{"Plx":0.288,"G":19.01,"P":0.55},{"Plx":0.276,"G":19.14,"P":0.62},{"Plx":0.256,"G":19.31,"P":0.80},{"Plx":0.240,"G":19.31,"P":0.72},{"Plx":0.213,"G":19.31,"P":0.55},{"Plx":0.204,"G":19.57,"P":0.62},{"Plx":0.199,"G":19.23,"P":0.72},{"Plx":0.177,"G":19.23,"P":0.64},{"Plx":0.166,"G":19.31,"P":0.72},{"Plx":0.151,"G":19.31,"P":0.64},{"Plx":0.137,"G":19.57,"P":0.55},{"Plx":0.142,"G":19.65,"P":0.62},{"Plx":0.130,"G":19.40,"P":0.72},{"Plx":0.111,"G":19.65,"P":0.63},{"Plx":0.106,"G":19.35,"P":0.55},{"Plx":0.094,"G":19.44,"P":0.56},{"Plx":0.072,"G":19.61,"P":0.58},{"Plx":0.047,"G":19.48,"P":0.66},{"Plx":0.099,"G":18.97,"P":0.80},{"Plx":0.068,"G":18.80,"P":0.72},{"Plx":0.051,"G":18.88,"P":0.80},{"Plx":0.051,"G":18.58,"P":0.86},{"Plx":0.068,"G":18.54,"P":0.82},{"Plx":0.070,"G":18.02,"P":0.82},{"Plx":0.091,"G":18.24,"P":0.90},{"Plx":0.118,"G":18.45,"P":0.90},{"Plx":0.016,"G":17.83,"P":0.88},{"Plx":0.021,"G":18.39,"P":0.80},{"Plx":-0.024,"G":18.56,"P":0.70},{"Plx":0.001,"G":18.94,"P":0.72},{"Plx":0.170,"G":17.89,"P":0.99},{"Plx":0.130,"G":18.28,"P":0.99},
{"Plx":0.240,"G":15.80,"P":0.99},{"Plx":0.262,"G":15.70,"P":0.99},{"Plx":0.283,"G":15.95,"P":0.99},{"Plx":0.300,"G":15.60,"P":0.99},{"Plx":0.195,"G":15.50,"P":0.99},{"Plx":0.175,"G":15.95,"P":0.99},{"Plx":0.160,"G":16.55,"P":0.99},{"Plx":0.145,"G":16.85,"P":0.99},{"Plx":0.245,"G":16.30,"P":0.99},{"Plx":0.270,"G":16.50,"P":0.99},{"Plx":0.300,"G":16.45,"P":0.99},{"Plx":0.340,"G":16.70,"P":0.99},{"Plx":0.355,"G":16.35,"P":0.99},{"Plx":0.230,"G":17.40,"P":0.99},{"Plx":0.260,"G":17.65,"P":0.99},{"Plx":0.290,"G":17.70,"P":0.99},{"Plx":0.310,"G":17.55,"P":0.99},{"Plx":0.205,"G":17.90,"P":0.99},{"Plx":0.245,"G":17.85,"P":0.99},{"Plx":0.275,"G":17.95,"P":0.98},{"Plx":0.240,"G":18.20,"P":0.99},{"Plx":0.215,"G":18.30,"P":0.97},{"Plx":0.160,"G":18.95,"P":0.72},{"Plx":0.185,"G":19.10,"P":0.62},{"Plx":0.230,"G":19.10,"P":0.56},{"Plx":0.260,"G":18.90,"P":0.64},{"Plx":0.300,"G":19.30,"P":0.58},{"Plx":0.345,"G":19.55,"P":0.62},{"Plx":0.375,"G":19.00,"P":0.70},{"Plx":0.425,"G":19.40,"P":0.62},{"Plx":0.435,"G":18.70,"P":0.82},{"Plx":0.470,"G":18.60,"P":0.90},{"Plx":0.120,"G":19.00,"P":0.58},{"Plx":0.085,"G":18.60,"P":0.82},{"Plx":0.060,"G":19.20,"P":0.64},{"Plx":0.290,"G":18.55,"P":0.90},{"Plx":0.330,"G":18.05,"P":0.90},{"Plx":0.360,"G":18.20,"P":0.88},{"Plx":0.390,"G":18.40,"P":0.80}
],
"cmd":[
{"BPRP":2.047,"G":12.75,"P":0.99},{"BPRP":1.573,"G":13.73,"P":0.99},{"BPRP":1.581,"G":14.16,"P":0.99},{"BPRP":1.559,"G":14.45,"P":0.99},{"BPRP":1.398,"G":14.27,"P":0.99},{"BPRP":1.710,"G":14.50,"P":0.90},{"BPRP":1.915,"G":14.42,"P":0.99},{"BPRP":2.063,"G":14.57,"P":0.99},{"BPRP":1.622,"G":14.86,"P":0.99},{"BPRP":1.754,"G":14.78,"P":0.99},{"BPRP":1.735,"G":15.02,"P":0.99},{"BPRP":1.824,"G":15.11,"P":0.99},{"BPRP":1.927,"G":14.99,"P":0.99},{"BPRP":1.692,"G":15.28,"P":0.99},{"BPRP":1.855,"G":15.32,"P":0.99},{"BPRP":1.735,"G":15.65,"P":0.80},{"BPRP":1.860,"G":15.78,"P":0.99},{"BPRP":1.843,"G":16.12,"P":0.99},{"BPRP":1.824,"G":16.54,"P":0.99},{"BPRP":1.586,"G":16.24,"P":0.99},{"BPRP":1.159,"G":15.19,"P":0.74},{"BPRP":1.285,"G":16.14,"P":0.72},{"BPRP":1.422,"G":15.77,"P":0.90},{"BPRP":1.362,"G":16.01,"P":0.99},{"BPRP":0.757,"G":14.55,"P":0.99},{"BPRP":0.846,"G":14.40,"P":0.99},{"BPRP":0.901,"G":14.68,"P":0.99},{"BPRP":0.815,"G":14.98,"P":0.99},{"BPRP":0.858,"G":15.11,"P":0.99},{"BPRP":0.726,"G":15.28,"P":0.99},{"BPRP":0.810,"G":15.45,"P":0.99},{"BPRP":0.870,"G":15.53,"P":0.99},{"BPRP":0.918,"G":15.47,"P":0.99},{"BPRP":0.954,"G":15.66,"P":0.99},{"BPRP":0.810,"G":15.66,"P":0.99},{"BPRP":0.839,"G":16.01,"P":0.99},{"BPRP":0.889,"G":15.96,"P":0.99},{"BPRP":0.942,"G":16.05,"P":0.99},{"BPRP":0.822,"G":16.22,"P":0.99},{"BPRP":0.906,"G":16.35,"P":0.99},{"BPRP":0.966,"G":16.48,"P":0.99},{"BPRP":1.038,"G":16.07,"P":0.99},{"BPRP":1.086,"G":16.11,"P":0.99},{"BPRP":1.098,"G":15.84,"P":0.99},{"BPRP":1.050,"G":16.56,"P":0.99},{"BPRP":1.110,"G":16.65,"P":0.99},{"BPRP":1.158,"G":16.48,"P":0.99},{"BPRP":1.074,"G":16.91,"P":0.99},{"BPRP":1.122,"G":16.99,"P":0.99},{"BPRP":1.182,"G":16.82,"P":0.99},{"BPRP":1.195,"G":17.08,"P":0.98},{"BPRP":1.303,"G":16.56,"P":0.99},{"BPRP":1.339,"G":16.39,"P":0.99},{"BPRP":1.303,"G":16.78,"P":0.99},{"BPRP":1.386,"G":16.74,"P":0.99},{"BPRP":1.278,"G":16.99,"P":0.99},{"BPRP":1.20,"G":16.6,"P":0.99},{"BPRP":1.25,"G":16.3,"P":0.99},{"BPRP":1.15,"G":16.2,"P":0.99},{"BPRP":1.05,"G":15.6,"P":0.99},{"BPRP":0.98,"G":15.3,"P":0.99},{"BPRP":0.78,"G":15.00,"P":0.99},{"BPRP":0.85,"G":15.25,"P":0.99},{"BPRP":0.92,"G":15.85,"P":0.99},{"BPRP":0.97,"G":16.00,"P":0.99},{"BPRP":1.00,"G":16.25,"P":0.99},{"BPRP":1.04,"G":16.40,"P":0.99},{"BPRP":1.08,"G":16.75,"P":0.99},{"BPRP":1.13,"G":16.85,"P":0.99},{"BPRP":1.17,"G":17.00,"P":0.99},{"BPRP":1.22,"G":17.15,"P":0.99},{"BPRP":1.134,"G":17.34,"P":0.99},{"BPRP":1.206,"G":17.25,"P":0.92},{"BPRP":1.182,"G":17.12,"P":0.90},{"BPRP":1.303,"G":17.12,"P":0.91},{"BPRP":1.350,"G":17.25,"P":0.90},{"BPRP":1.218,"G":17.46,"P":0.90},{"BPRP":1.267,"G":17.42,"P":0.88},{"BPRP":1.146,"G":17.59,"P":0.99},{"BPRP":1.182,"G":17.85,"P":0.98},{"BPRP":1.242,"G":17.72,"P":0.82},{"BPRP":1.314,"G":17.59,"P":0.90},{"BPRP":1.24,"G":17.3,"P":0.93},{"BPRP":1.30,"G":17.9,"P":0.91},{"BPRP":1.35,"G":18.3,"P":0.86},{"BPRP":1.26,"G":17.55,"P":0.90},{"BPRP":1.29,"G":17.35,"P":0.92},{"BPRP":1.32,"G":17.80,"P":0.88},{"BPRP":1.36,"G":17.95,"P":0.82},{"BPRP":1.27,"G":18.20,"P":0.90},{"BPRP":1.24,"G":18.00,"P":0.93},{"BPRP":1.21,"G":17.75,"P":0.95},{"BPRP":1.30,"G":18.40,"P":0.86},{"BPRP":1.370,"G":17.24,"P":0.55},{"BPRP":1.386,"G":17.51,"P":0.56},{"BPRP":1.499,"G":17.27,"P":0.58},{"BPRP":1.447,"G":17.17,"P":0.72},{"BPRP":1.422,"G":17.46,"P":0.64},{"BPRP":1.566,"G":17.74,"P":0.88},{"BPRP":1.375,"G":17.72,"P":0.64},{"BPRP":1.278,"G":17.77,"P":0.82},{"BPRP":1.447,"G":17.98,"P":0.55},{"BPRP":1.483,"G":17.98,"P":0.56},{"BPRP":1.519,"G":17.95,"P":0.72},{"BPRP":1.278,"G":18.11,"P":0.55},{"BPRP":1.326,"G":18.02,"P":0.90},{"BPRP":1.447,"G":18.24,"P":0.55},{"BPRP":1.47,"G":18.2,"P":0.80},{"BPRP":1.555,"G":18.41,"P":0.72},{"BPRP":1.615,"G":18.37,"P":0.80},{"BPRP":1.218,"G":18.37,"P":0.90},{"BPRP":1.326,"G":18.45,"P":0.55},{"BPRP":1.398,"G":18.37,"P":0.72},{"BPRP":1.326,"G":18.71,"P":0.64},{"BPRP":1.422,"G":18.71,"P":0.72},{"BPRP":1.254,"G":18.62,"P":0.82},{"BPRP":1.52,"G":18.55,"P":0.62},{"BPRP":1.36,"G":18.85,"P":0.72},{"BPRP":1.45,"G":17.70,"P":0.72},{"BPRP":1.50,"G":17.55,"P":0.64},{"BPRP":1.56,"G":17.95,"P":0.58},{"BPRP":1.59,"G":18.20,"P":0.55},{"BPRP":1.62,"G":18.60,"P":0.56},{"BPRP":1.67,"G":18.55,"P":0.60},{"BPRP":1.40,"G":18.10,"P":0.72},{"BPRP":1.43,"G":18.45,"P":0.64},{"BPRP":1.46,"G":18.60,"P":0.60},{"BPRP":1.34,"G":18.60,"P":0.80},{"BPRP":1.37,"G":19.05,"P":0.70},{"BPRP":1.362,"G":18.97,"P":0.55},{"BPRP":1.398,"G":18.92,"P":0.55},{"BPRP":1.494,"G":18.97,"P":0.55},{"BPRP":1.555,"G":18.67,"P":0.55},{"BPRP":1.651,"G":18.80,"P":0.55},{"BPRP":1.699,"G":18.97,"P":0.54},{"BPRP":1.44,"G":19.05,"P":0.58},{"BPRP":1.49,"G":18.80,"P":0.56},{"BPRP":1.52,"G":19.00,"P":0.55},{"BPRP":1.55,"G":19.10,"P":0.56},{"BPRP":1.615,"G":19.14,"P":0.55},{"BPRP":1.543,"G":19.23,"P":0.63},{"BPRP":1.651,"G":19.23,"P":0.55},{"BPRP":1.447,"G":19.31,"P":0.55},{"BPRP":1.398,"G":19.52,"P":0.56},{"BPRP":1.326,"G":19.31,"P":0.64},{"BPRP":1.339,"G":19.48,"P":0.72},{"BPRP":1.278,"G":19.23,"P":0.72},{"BPRP":1.303,"G":19.05,"P":0.80},{"BPRP":1.40,"G":19.25,"P":0.64},{"BPRP":1.47,"G":19.45,"P":0.60},{"BPRP":1.506,"G":19.31,"P":0.72},{"BPRP":1.58,"G":19.30,"P":0.55},{"BPRP":1.60,"G":19.35,"P":0.56},{"BPRP":1.62,"G":19.45,"P":0.56},{"BPRP":1.66,"G":19.55,"P":0.58},{"BPRP":1.68,"G":19.30,"P":0.55},{"BPRP":1.72,"G":19.10,"P":0.56},{"BPRP":1.53,"G":19.55,"P":0.55},{"BPRP":1.579,"G":19.52,"P":0.55},{"BPRP":1.50,"G":19.6,"P":0.55},{"BPRP":1.42,"G":19.7,"P":0.60},{"BPRP":1.579,"G":19.74,"P":0.55},{"BPRP":1.627,"G":19.61,"P":0.62},{"BPRP":1.723,"G":19.65,"P":0.62},{"BPRP":1.782,"G":19.44,"P":0.60},{"BPRP":1.843,"G":19.22,"P":0.62},{"BPRP":2.119,"G":19.10,"P":0.64},{"BPRP":2.402,"G":19.31,"P":0.63},{"BPRP":3.560,"G":10.37,"P":0.99}
]
},
"concat":[
  {"width":432.5,"height":394.5,"data":{"name":"sky"},
   "layer":[
    {"mark":{"type":"circle","size":110,"opacity":0.8,"stroke":"#3a3a3a","strokeWidth":0.5},
     "encoding":{
      "x":{"field":"GLON","type":"quantitative","scale":{"domain":[260.455,261.0243],"nice":false,"zero":false},"axis":{"orient":"bottom","values":[260.5,260.6,260.7,260.8,260.9,261.0],"format":".1f","tickSize":-7.5,"labelPadding":16.8,"title":"GLON","titleY":37}},
      "y":{"field":"GLAT","type":"quantitative","scale":{"domain":[4.0007,4.5725],"nice":false,"zero":false},"axis":{"orient":"left","values":[4.1,4.2,4.3,4.4,4.5],"format":".1f","tickSize":-7.5,"labelPadding":21.5,"title":"GLAT","titleX":-54.6}},
      "color":{"field":"P","type":"quantitative","scale":{"scheme":"plasma","domain":[0.5076,1.0001]},"legend":{"orient":"none","legendX":983.5,"legendY":-1.1,"direction":"vertical","gradientLength":866.6,"gradientThickness":21.3,"gradientStrokeColor":"black","gradientStrokeWidth":1.4,"gradientOpacity":0.8,"values":[0.6,0.7,0.8,0.9,1.0],"format":".1f","title":null,"labelFont":"Liberation Serif","labelFontSize":19,"labelColor":"black","labelOffset":9,"labelOverlap":false,"padding":0}}}},
    {"mark":{"type":"circle","opacity":0},
     "encoding":{
      "x":{"field":"GLON","type":"quantitative","scale":{"domain":[260.455,261.0243],"nice":false,"zero":false},"axis":{"orient":"top","values":[260.5,260.6,260.7,260.8,260.9,261.0],"tickSize":-7.5,"labels":false,"title":null}},
      "y":{"field":"GLAT","type":"quantitative","scale":{"domain":[4.0007,4.5725],"nice":false,"zero":false},"axis":{"orient":"right","values":[4.1,4.2,4.3,4.4,4.5],"tickSize":-7.5,"labels":false,"title":null}}}},
    {"mark":{"type":"circle","opacity":0},
     "encoding":{
      "x":{"field":"GLON","type":"quantitative","scale":{"domain":[260.455,261.0243],"nice":false,"zero":false},"axis":{"orient":"bottom","values":[260.46,260.48,260.5,260.52,260.54,260.56,260.58,260.6,260.62,260.64,260.66,260.68,260.7,260.72,260.74,260.76,260.78,260.8,260.82,260.84,260.86,260.88,260.9,260.92,260.94,260.96,260.98,261.0,261.02],"tickSize":-4,"labels":false,"title":null}},
      "y":{"field":"GLAT","type":"quantitative","scale":{"domain":[4.0007,4.5725],"nice":false,"zero":false},"axis":{"orient":"left","values":[4.02,4.04,4.06,4.08,4.1,4.12,4.14,4.16,4.18,4.2,4.22,4.24,4.26,4.28,4.3,4.32,4.34,4.36,4.38,4.4,4.42,4.44,4.46,4.48,4.5,4.52,4.54,4.56],"tickSize":-4,"labels":false,"title":null}}}},
    {"mark":{"type":"circle","opacity":0},
     "encoding":{
      "x":{"field":"GLON","type":"quantitative","scale":{"domain":[260.455,261.0243],"nice":false,"zero":false},"axis":{"orient":"top","values":[260.46,260.48,260.5,260.52,260.54,260.56,260.58,260.6,260.62,260.64,260.66,260.68,260.7,260.72,260.74,260.76,260.78,260.8,260.82,260.84,260.86,260.88,260.9,260.92,260.94,260.96,260.98,261.0,261.02],"tickSize":-4,"labels":false,"title":null}},
      "y":{"field":"GLAT","type":"quantitative","scale":{"domain":[4.0007,4.5725],"nice":false,"zero":false},"axis":{"orient":"right","values":[4.02,4.04,4.06,4.08,4.1,4.12,4.14,4.16,4.18,4.2,4.22,4.24,4.26,4.28,4.3,4.32,4.34,4.36,4.38,4.4,4.42,4.44,4.46,4.48,4.5,4.52,4.54,4.56],"tickSize":-4,"labels":false,"title":null}}}}
   ],
   "resolve":{"axis":{"x":"independent","y":"independent"}}},
  {"width":432.5,"height":394.5,"data":{"name":"pm"},
   "layer":[
    {"mark":{"type":"circle","size":110,"opacity":0.8,"stroke":"#3a3a3a","strokeWidth":0.5},
     "encoding":{
      "x":{"field":"pmRA","type":"quantitative","scale":{"domain":[-5.4574,-4.3448],"nice":false,"zero":false},"axis":{"orient":"bottom","values":[-5.4,-5.2,-5.0,-4.8,-4.6],"format":".1f","tickSize":-7.5,"labelPadding":16.8,"title":"pmRA [mas/yr]","titleY":37}},
      "y":{"field":"pmDE","type":"quantitative","scale":{"domain":[3.2507,4.4059],"nice":false,"zero":false},"axis":{"orient":"left","values":[3.4,3.6,3.8,4.0,4.2,4.4],"format":".1f","tickSize":-7.5,"labelPadding":21.5,"title":"pmDE [mas/yr]","titleX":-54.6}},
      "color":{"field":"P","type":"quantitative","scale":{"scheme":"plasma","domain":[0.5076,1.0001]},"legend":{"orient":"none","legendX":983.5,"legendY":-1.1,"direction":"vertical","gradientLength":866.6,"gradientThickness":21.3,"gradientStrokeColor":"black","gradientStrokeWidth":1.4,"gradientOpacity":0.8,"values":[0.6,0.7,0.8,0.9,1.0],"format":".1f","title":null,"labelFont":"Liberation Serif","labelFontSize":19,"labelColor":"black","labelOffset":9,"labelOverlap":false,"padding":0}}}},
    {"mark":{"type":"circle","opacity":0},
     "encoding":{
      "x":{"field":"pmRA","type":"quantitative","scale":{"domain":[-5.4574,-4.3448],"nice":false,"zero":false},"axis":{"orient":"top","values":[-5.4,-5.2,-5.0,-4.8,-4.6],"tickSize":-7.5,"labels":false,"title":null}},
      "y":{"field":"pmDE","type":"quantitative","scale":{"domain":[3.2507,4.4059],"nice":false,"zero":false},"axis":{"orient":"right","values":[3.4,3.6,3.8,4.0,4.2,4.4],"tickSize":-7.5,"labels":false,"title":null}}}},
    {"mark":{"type":"circle","opacity":0},
     "encoding":{
      "x":{"field":"pmRA","type":"quantitative","scale":{"domain":[-5.4574,-4.3448],"nice":false,"zero":false},"axis":{"orient":"bottom","values":[-5.45,-5.4,-5.35,-5.3,-5.25,-5.2,-5.15,-5.1,-5.05,-5.0,-4.95,-4.9,-4.85,-4.8,-4.75,-4.7,-4.65,-4.6,-4.55,-4.5,-4.45,-4.4,-4.35],"tickSize":-4,"labels":false,"title":null}},
      "y":{"field":"pmDE","type":"quantitative","scale":{"domain":[3.2507,4.4059],"nice":false,"zero":false},"axis":{"orient":"left","values":[3.3,3.35,3.4,3.45,3.5,3.55,3.6,3.65,3.7,3.75,3.8,3.85,3.9,3.95,4.0,4.05,4.1,4.15,4.2,4.25,4.3,4.35,4.4],"tickSize":-4,"labels":false,"title":null}}}},
    {"mark":{"type":"circle","opacity":0},
     "encoding":{
      "x":{"field":"pmRA","type":"quantitative","scale":{"domain":[-5.4574,-4.3448],"nice":false,"zero":false},"axis":{"orient":"top","values":[-5.45,-5.4,-5.35,-5.3,-5.25,-5.2,-5.15,-5.1,-5.05,-5.0,-4.95,-4.9,-4.85,-4.8,-4.75,-4.7,-4.65,-4.6,-4.55,-4.5,-4.45,-4.4,-4.35],"tickSize":-4,"labels":false,"title":null}},
      "y":{"field":"pmDE","type":"quantitative","scale":{"domain":[3.2507,4.4059],"nice":false,"zero":false},"axis":{"orient":"right","values":[3.3,3.35,3.4,3.45,3.5,3.55,3.6,3.65,3.7,3.75,3.8,3.85,3.9,3.95,4.0,4.05,4.1,4.15,4.2,4.25,4.3,4.35,4.4],"tickSize":-4,"labels":false,"title":null}}}}
   ],
   "resolve":{"axis":{"x":"independent","y":"independent"}}},
  {"width":432.5,"height":394.5,
   "layer":[
    {"data":{"name":"plx"},"mark":{"type":"circle","size":110,"opacity":0.8,"stroke":"#3a3a3a","strokeWidth":0.5},
     "encoding":{
      "x":{"field":"Plx","type":"quantitative","scale":{"domain":[-0.075,0.5456],"nice":false,"zero":false},"axis":{"orient":"bottom","values":[0.0,0.1,0.2,0.3,0.4,0.5],"format":".1f","tickSize":-7.5,"labelPadding":16.8,"title":"Plx [mas]","titleY":37}},
      "y":{"field":"G","type":"quantitative","scale":{"domain":[9.856,20.01],"reverse":true,"nice":false,"zero":false},"axis":{"orient":"left","values":[10,12,14,16,18,20],"format":"d","tickSize":-7.5,"labelPadding":21.5,"title":"G","titleX":-42.6}},
      "color":{"field":"P","type":"quantitative","scale":{"scheme":"plasma","domain":[0.5076,1.0001]},"legend":{"orient":"none","legendX":983.5,"legendY":-1.1,"direction":"vertical","gradientLength":866.6,"gradientThickness":21.3,"gradientStrokeColor":"black","gradientStrokeWidth":1.4,"gradientOpacity":0.8,"values":[0.6,0.7,0.8,0.9,1.0],"format":".1f","title":null,"labelFont":"Liberation Serif","labelFontSize":19,"labelColor":"black","labelOffset":9,"labelOverlap":false,"padding":0}}}},
    {"data":{"values":[{"Plx":0.24}]},"mark":{"type":"rule","color":"black","strokeWidth":4.3,"strokeDash":[4.3,10.4],"strokeDashOffset":7.6},
     "encoding":{"x":{"field":"Plx","type":"quantitative","scale":{"domain":[-0.075,0.5456],"nice":false,"zero":false},"axis":null}}},
    {"data":{"name":"plx"},"mark":{"type":"circle","opacity":0},
     "encoding":{
      "x":{"field":"Plx","type":"quantitative","scale":{"domain":[-0.075,0.5456],"nice":false,"zero":false},"axis":{"orient":"top","values":[0.0,0.1,0.2,0.3,0.4,0.5],"tickSize":-7.5,"labels":false,"title":null}},
      "y":{"field":"G","type":"quantitative","scale":{"domain":[9.856,20.01],"reverse":true,"nice":false,"zero":false},"axis":{"orient":"right","values":[10,12,14,16,18,20],"tickSize":-7.5,"labels":false,"title":null}}}},
    {"data":{"name":"plx"},"mark":{"type":"circle","opacity":0},
     "encoding":{
      "x":{"field":"Plx","type":"quantitative","scale":{"domain":[-0.075,0.5456],"nice":false,"zero":false},"axis":{"orient":"bottom","values":[-0.06,-0.04,-0.02,0,0.02,0.04,0.06,0.08,0.1,0.12,0.14,0.16,0.18,0.2,0.22,0.24,0.26,0.28,0.3,0.32,0.34,0.36,0.38,0.4,0.42,0.44,0.46,0.48,0.5,0.52,0.54],"tickSize":-4,"labels":false,"title":null}},
      "y":{"field":"G","type":"quantitative","scale":{"domain":[9.856,20.01],"reverse":true,"nice":false,"zero":false},"axis":{"orient":"left","values":[10,10.5,11,11.5,12,12.5,13,13.5,14,14.5,15,15.5,16,16.5,17,17.5,18,18.5,19,19.5,20],"tickSize":-4,"labels":false,"title":null}}}},
    {"data":{"name":"plx"},"mark":{"type":"circle","opacity":0},
     "encoding":{
      "x":{"field":"Plx","type":"quantitative","scale":{"domain":[-0.075,0.5456],"nice":false,"zero":false},"axis":{"orient":"top","values":[-0.06,-0.04,-0.02,0,0.02,0.04,0.06,0.08,0.1,0.12,0.14,0.16,0.18,0.2,0.22,0.24,0.26,0.28,0.3,0.32,0.34,0.36,0.38,0.4,0.42,0.44,0.46,0.48,0.5,0.52,0.54],"tickSize":-4,"labels":false,"title":null}},
      "y":{"field":"G","type":"quantitative","scale":{"domain":[9.856,20.01],"reverse":true,"nice":false,"zero":false},"axis":{"orient":"right","values":[10,10.5,11,11.5,12,12.5,13,13.5,14,14.5,15,15.5,16,16.5,17,17.5,18,18.5,19,19.5,20],"tickSize":-4,"labels":false,"title":null}}}}
   ],
   "resolve":{"axis":{"x":"independent","y":"independent"}}},
  {"width":432.5,"height":394.5,"data":{"name":"cmd"},
   "layer":[
    {"mark":{"type":"circle","size":110,"opacity":0.8,"stroke":"#3a3a3a","strokeWidth":0.5},
     "encoding":{
      "x":{"field":"BPRP","type":"quantitative","scale":{"domain":[0.5929,3.709],"nice":false,"zero":false},"axis":{"orient":"bottom","values":[1.0,1.5,2.0,2.5,3.0,3.5],"format":".1f","tickSize":-7.5,"labelPadding":16.8,"title":"BP-RP","titleY":37}},
      "y":{"field":"G","type":"quantitative","scale":{"domain":[9.856,20.01],"reverse":true,"nice":false,"zero":false},"axis":{"orient":"left","values":[10,12,14,16,18,20],"format":"d","tickSize":-7.5,"labelPadding":21.5,"title":"G","titleX":-42.6}},
      "color":{"field":"P","type":"quantitative","scale":{"scheme":"plasma","domain":[0.5076,1.0001]},"legend":{"orient":"none","legendX":983.5,"legendY":-1.1,"direction":"vertical","gradientLength":866.6,"gradientThickness":21.3,"gradientStrokeColor":"black","gradientStrokeWidth":1.4,"gradientOpacity":0.8,"values":[0.6,0.7,0.8,0.9,1.0],"format":".1f","title":null,"labelFont":"Liberation Serif","labelFontSize":19,"labelColor":"black","labelOffset":9,"labelOverlap":false,"padding":0}}}},
    {"mark":{"type":"circle","opacity":0},
     "encoding":{
      "x":{"field":"BPRP","type":"quantitative","scale":{"domain":[0.5929,3.709],"nice":false,"zero":false},"axis":{"orient":"top","values":[1.0,1.5,2.0,2.5,3.0,3.5],"tickSize":-7.5,"labels":false,"title":null}},
      "y":{"field":"G","type":"quantitative","scale":{"domain":[9.856,20.01],"reverse":true,"nice":false,"zero":false},"axis":{"orient":"right","values":[10,12,14,16,18,20],"tickSize":-7.5,"labels":false,"title":null}}}},
    {"mark":{"type":"circle","opacity":0},
     "encoding":{
      "x":{"field":"BPRP","type":"quantitative","scale":{"domain":[0.5929,3.709],"nice":false,"zero":false},"axis":{"orient":"bottom","values":[0.6,0.7,0.8,0.9,1.0,1.1,1.2,1.3,1.4,1.5,1.6,1.7,1.8,1.9,2.0,2.1,2.2,2.3,2.4,2.5,2.6,2.7,2.8,2.9,3.0,3.1,3.2,3.3,3.4,3.5,3.6,3.7],"tickSize":-4,"labels":false,"title":null}},
      "y":{"field":"G","type":"quantitative","scale":{"domain":[9.856,20.01],"reverse":true,"nice":false,"zero":false},"axis":{"orient":"left","values":[10,10.5,11,11.5,12,12.5,13,13.5,14,14.5,15,15.5,16,16.5,17,17.5,18,18.5,19,19.5,20],"tickSize":-4,"labels":false,"title":null}}}},
    {"mark":{"type":"circle","opacity":0},
     "encoding":{
      "x":{"field":"BPRP","type":"quantitative","scale":{"domain":[0.5929,3.709],"nice":false,"zero":false},"axis":{"orient":"top","values":[0.6,0.7,0.8,0.9,1.0,1.1,1.2,1.3,1.4,1.5,1.6,1.7,1.8,1.9,2.0,2.1,2.2,2.3,2.4,2.5,2.6,2.7,2.8,2.9,3.0,3.1,3.2,3.3,3.4,3.5,3.6,3.7],"tickSize":-4,"labels":false,"title":null}},
      "y":{"field":"G","type":"quantitative","scale":{"domain":[9.856,20.01],"reverse":true,"nice":false,"zero":false},"axis":{"orient":"right","values":[10,10.5,11,11.5,12,12.5,13,13.5,14,14.5,15,15.5,16,16.5,17,17.5,18,18.5,19,19.5,20],"tickSize":-4,"labels":false,"title":null}}}}
   ],
   "resolve":{"axis":{"x":"independent","y":"independent"}}}
],
"config":{
 "view":{"stroke":"black","strokeWidth":1.6},
 "font":"Liberation Serif",
 "axis":{"domain":false,"grid":false,"labelFlush":false,"labelOverlap":false,"tickColor":"black","tickWidth":1,"labelFont":"Liberation Serif","labelFontSize":19,"labelColor":"black","titleFont":"Liberation Serif","titleFontSize":19,"titleFontWeight":"normal","titleColor":"black"}
}
}
